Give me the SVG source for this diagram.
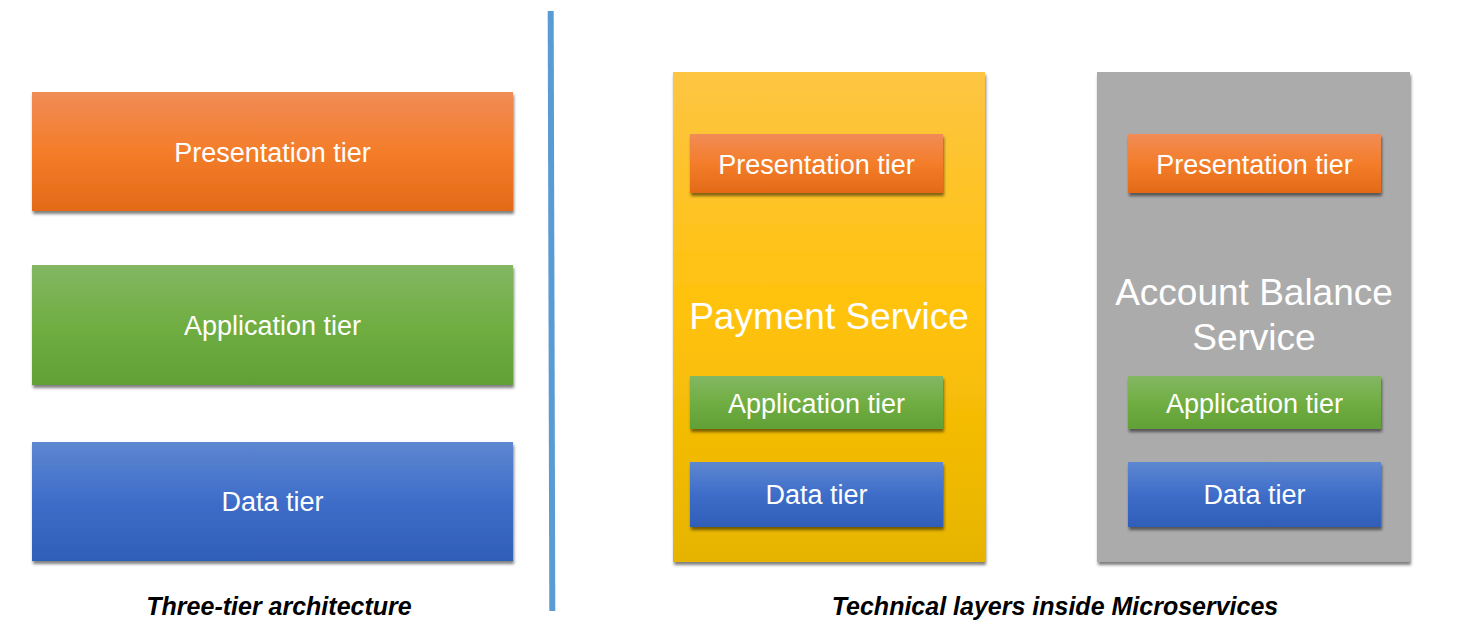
<svg xmlns="http://www.w3.org/2000/svg" width="1458" height="643" viewBox="0 0 1458 643">
<style>
.lbl{font-family:"Liberation Sans",Arial,sans-serif;fill:#ffffff;text-anchor:middle}
.t{font-size:27px}
.big{font-size:37px}
.cap{font-family:"Liberation Sans",Arial,sans-serif;font-weight:bold;font-style:italic;font-size:25px;fill:#000;text-anchor:middle}
</style>
<defs>
<linearGradient id="gOrange" x1="0" y1="0" x2="0" y2="1">
<stop offset="0" stop-color="#F08C57"/><stop offset="0.5" stop-color="#F47D2A"/><stop offset="1" stop-color="#E36A17"/>
</linearGradient>
<linearGradient id="gGreen" x1="0" y1="0" x2="0" y2="1">
<stop offset="0" stop-color="#83B763"/><stop offset="0.5" stop-color="#70AE43"/><stop offset="1" stop-color="#61A035"/>
</linearGradient>
<linearGradient id="gBlue" x1="0" y1="0" x2="0" y2="1">
<stop offset="0" stop-color="#5E87D0"/><stop offset="0.5" stop-color="#3E6DC9"/><stop offset="1" stop-color="#2F5EB8"/>
</linearGradient>
<linearGradient id="gYellow" x1="0" y1="0" x2="0" y2="1">
<stop offset="0" stop-color="#FDC543"/><stop offset="0.5" stop-color="#FFC20A"/><stop offset="1" stop-color="#E6B400"/>
</linearGradient>
<filter id="sh" x="-5%" y="-5%" width="112%" height="115%">
<feDropShadow dx="1" dy="3" stdDeviation="1.8" flood-color="#000" flood-opacity="0.5"/>
</filter>
</defs>
<rect width="1458" height="643" fill="#ffffff"/>

<g id="connectors">
<line x1="550.7" y1="11" x2="552.3" y2="611" stroke="#5B9BD5" stroke-width="6"/>
</g>

<g id="left-presentation">
<rect x="32" y="92" width="481" height="119" fill="url(#gOrange)" filter="url(#sh)"/>
<text class="lbl t" x="272.5" y="162">Presentation tier</text>
</g>
<g id="left-application">
<rect x="32" y="265" width="481" height="120" fill="url(#gGreen)" filter="url(#sh)"/>
<text class="lbl t" x="272.5" y="335">Application tier</text>
</g>
<g id="left-data">
<rect x="32" y="442" width="481" height="119" fill="url(#gBlue)" filter="url(#sh)"/>
<text class="lbl t" x="272.5" y="511">Data tier</text>
</g>

<g id="payment-service">
<rect x="673" y="72" width="312" height="490" fill="url(#gYellow)" filter="url(#sh)"/>
<text class="lbl big" x="829" y="329">Payment Service</text>
</g>
<g id="payment-presentation">
<rect x="690" y="134" width="253" height="59" fill="url(#gOrange)" filter="url(#sh)"/>
<text class="lbl t" x="816.5" y="174">Presentation tier</text>
</g>
<g id="payment-application">
<rect x="690" y="376" width="253" height="53" fill="url(#gGreen)" filter="url(#sh)"/>
<text class="lbl t" x="816.5" y="413">Application tier</text>
</g>
<g id="payment-data">
<rect x="690" y="462" width="253" height="65" fill="url(#gBlue)" filter="url(#sh)"/>
<text class="lbl t" x="816.5" y="504">Data tier</text>
</g>

<g id="account-balance-service">
<rect x="1097" y="72" width="313" height="490" fill="#ABABAB" filter="url(#sh)"/>
<text class="lbl big" x="1254" y="305">Account Balance</text>
<text class="lbl big" x="1254" y="350">Service</text>
</g>
<g id="account-presentation">
<rect x="1128" y="134" width="253" height="59" fill="url(#gOrange)" filter="url(#sh)"/>
<text class="lbl t" x="1254.5" y="174">Presentation tier</text>
</g>
<g id="account-application">
<rect x="1128" y="376" width="253" height="53" fill="url(#gGreen)" filter="url(#sh)"/>
<text class="lbl t" x="1254.5" y="413">Application tier</text>
</g>
<g id="account-data">
<rect x="1128" y="462" width="253" height="65" fill="url(#gBlue)" filter="url(#sh)"/>
<text class="lbl t" x="1254.5" y="504">Data tier</text>
</g>

<g id="captions">
<text class="cap" x="279" y="615">Three-tier architecture</text>
<text class="cap" x="1055" y="615">Technical layers inside Microservices</text>
</g>
</svg>
